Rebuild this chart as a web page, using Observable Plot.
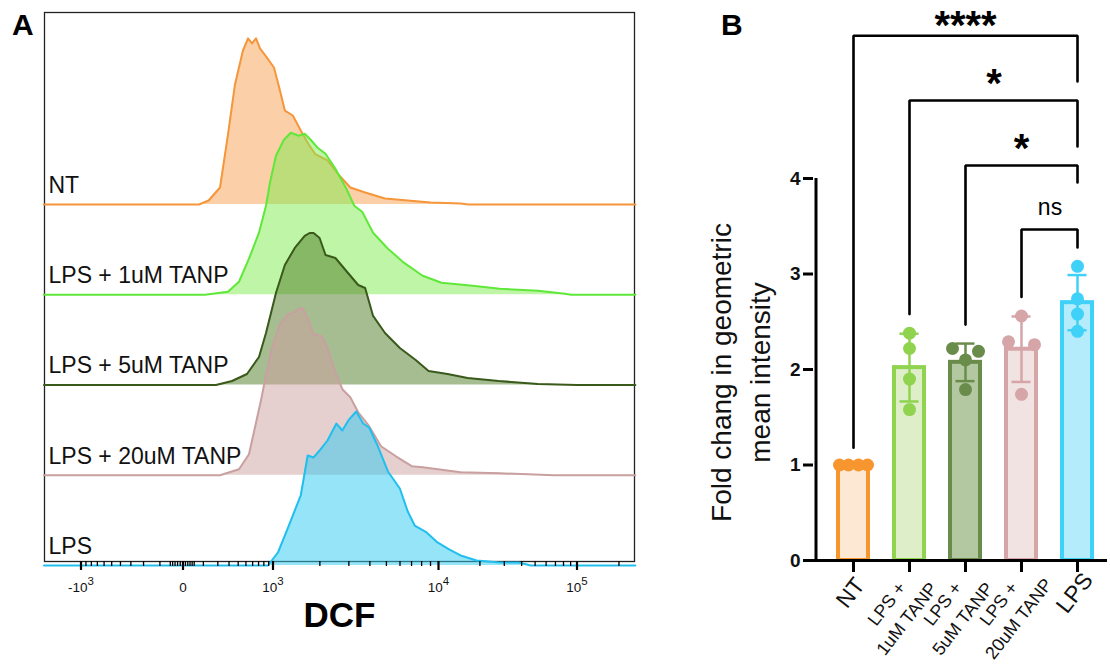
<!DOCTYPE html>
<html><head><meta charset="utf-8">
<script src="https://cdn.jsdelivr.net/npm/d3@7"></script>
<script src="https://cdn.jsdelivr.net/npm/@observablehq/plot@0.6"></script>
<style>
html,body{margin:0;padding:0;background:#fff}
body{width:1110px;height:664px;position:relative;overflow:hidden;font-family:"Liberation Sans",Arial,sans-serif}
#panelA,#panelB{position:absolute;top:0}
#panelA{left:0}
#panelB{left:650px}
.plab{position:absolute;font-weight:bold;font-size:30px;line-height:30px;color:#000}
#panelB g[aria-label="y-axis tick label"] text{font-weight:bold}
</style></head><body>
<div id="panelA"></div><div id="panelB"></div>
<div class="plab" style="left:12px;top:10px">A</div>
<div class="plab" style="left:721px;top:10px">B</div>
<script>
// ================= Panel A: DCF histograms =================
const histNames = ["NT", "LPS + 1uM TANP", "LPS + 5uM TANP", "LPS + 20uM TANP", "LPS"];

const ntDCF   = [-2100, 75, 133, 218, 290, 363, 460, 530, 590, 656, 726, 844, 1015, 1113, 1199, 1351, 1518, 1703, 1882, 2228, 2596, 3060, 3751, 4906, 6655, 9005, 14483, 16562, 262144];
const ntCount = [0, 0, 0.044, 0.188, 0.776, 1.33, 1.706, 1.84, 1.784, 1.84, 1.729, 1.64, 1.518, 1.263, 1.04, 0.986, 0.82, 0.665, 0.554, 0.488, 0.332, 0.188, 0.133, 0.066, 0.044, 0.022, 0.011, 0, 0];

const tanp1DCF   = [-2100, 110, 290, 410, 544, 708, 844, 930, 1047, 1182, 1311, 1474, 1608, 1753, 1936, 2167, 2490, 2897, 3232, 3602, 4178, 5106, 6313, 8108, 10519, 17709, 27805, 52339, 81951, 90534, 262144];
const tanp1Count = [0, 0, 0.033, 0.144, 0.399, 0.687, 0.986, 1.241, 1.54, 1.717, 1.795, 1.762, 1.784, 1.717, 1.629, 1.562, 1.396, 1.175, 0.986, 0.92, 0.687, 0.51, 0.355, 0.21, 0.133, 0.1, 0.066, 0.044, 0.011, 0, 0];

const tanp5DCF   = [-2100, 186, 331, 515, 708, 844, 976, 1047, 1199, 1391, 1608, 1728, 1829, 1992, 2167, 2490, 2897, 3412, 3751, 4178, 4906, 5988, 7395, 8772, 11639, 16286, 27344, 52339, 100000, 262144];
const tanp5Count = [0, 0, 0.044, 0.122, 0.31, 0.576, 0.842, 1.019, 1.33, 1.518, 1.651, 1.684, 1.684, 1.629, 1.44, 1.407, 1.263, 1.108, 1.075, 0.765, 0.576, 0.41, 0.277, 0.155, 0.122, 0.078, 0.044, 0.011, 0, 0];

const tanp20DCF   = [-2100, 218, 410, 544, 639, 745, 844, 976, 1113, 1254, 1351, 1453, 1563, 1703, 1829, 2048, 2228, 2490, 2743, 3060, 3412, 3959, 4651, 5679, 7016, 8108, 14483, 27805, 68281, 262144];
const tanp20Count = [0, 0, 0.066, 0.233, 0.532, 0.831, 1.108, 1.407, 1.673, 1.784, 1.795, 1.839, 1.85, 1.706, 1.562, 1.54, 1.407, 1.141, 0.953, 0.864, 0.698, 0.543, 0.321, 0.21, 0.1, 0.089, 0.033, 0.022, 0, 0];

const lpsDCF   = [-2100, 886, 1079, 1273, 1518, 1679, 1829, 1992, 2228, 2525, 2743, 2978, 3321, 3651, 3959, 4408, 5106, 5988, 6655, 7299, 8546, 9869, 12038, 14483, 18936, 27805, 38158, 46585, 262144];
const lpsCount = [0, 0, 0.144, 0.443, 0.776, 1.219, 1.197, 1.274, 1.385, 1.573, 1.496, 1.607, 1.706, 1.573, 1.529, 1.341, 1.042, 0.853, 0.598, 0.443, 0.366, 0.255, 0.177, 0.111, 0.055, 0.033, 0.033, 0, 0];

const histDCF = [ntDCF, tanp1DCF, tanp5DCF, tanp20DCF, lpsDCF];
const histCount = [ntCount, tanp1Count, tanp5Count, tanp20Count, lpsCount];
const histStroke = ["#f5963a", "#5fe83a", "#3a5a1c", "#c9a0a0", "#20bfed"];
const histFill = ["#f79f51", "#7feb4d", "#4d7b23", "#cd9f9f", "#2dc9f1"];

const axisMajor = [-1000, 0, 1000, 10000, 100000];
const axisMajorLabels = ["-10³", "0", "10³", "10⁴", "10⁵"];
const axisMinor = [-900, -800, -700, -600, -500, -400, -300, -200, -100, -50, -40, -30, -20, -10, 10, 20, 30, 40, 50,
  100, 200, 300, 400, 500, 600, 700, 800, 900, 2000, 3000, 4000, 5000, 6000, 7000, 8000, 9000,
  20000, 30000, 40000, 50000, 60000, 70000, 80000, 90000, 200000];

// ================= Panel B: fold change =================
const groups = ["NT", "LPS + 1uM TANP", "LPS + 5uM TANP", "LPS + 20uM TANP", "LPS"];
const groupLine1 = ["NT", "LPS +", "LPS +", "LPS +", "LPS"];
const groupLine2 = ["", "1uM TANP", "5uM TANP", "20uM TANP", ""];
const ntFold = [1.0, 1.0, 1.0, 1.0];
const tanp1Fold = [2.38, 2.22, 1.90, 1.58];
const tanp5Fold = [2.22, 2.19, 2.10, 1.79];
const tanp20Fold = [2.29, 2.26, 2.56, 1.74];
const lpsFold = [3.08, 2.74, 2.58, 2.40];
const foldValues = [ntFold, tanp1Fold, tanp5Fold, tanp20Fold, lpsFold];
const pointNudge = [[-14, -5, 5, 14], [0, 0, 0, 0], [-13, 13, 0, 0], [-13, 13, 0, 0], [0, 0, 0, 0]];
const barStroke = ["#f7962f", "#8fd34f", "#6a8c4b", "#d5a5a8", "#3fd1f8"];
const barFill = ["#fde8d3", "#ddeec9", "#b3c8a0", "#f2e3e3", "#b4ecfc"];
const yTicksB = [0, 1, 2, 3, 4];

// significance brackets
const compFrom = ["NT", "LPS + 1uM TANP", "LPS + 5uM TANP", "LPS + 20uM TANP"];
const compTo = ["LPS", "LPS", "LPS", "LPS"];
const compLevel = [5.495, 4.817, 4.136, 3.466];
const compFromEnd = [1.18, 2.58, 2.47, 2.76];
const compToEnd = [5.016, 4.335, 3.958, 3.277];
const compLabel = ["****", "*", "*", "ns"];

const FONT = '"Liberation Sans", Arial, sans-serif';

// ---------- build panel A ----------
const nRows = histNames.length;
const histMarks = [];
histNames.forEach((name, i) => {
  const base = nRows - 1 - i;
  const pts = histDCF[i].map((x, k) => ({x, y1: base, y2: base + histCount[i][k]}));
  histMarks.push(Plot.areaY(pts, {x: "x", y1: "y1", y2: "y2", fill: histFill[i], fillOpacity: 0.5}));
  histMarks.push(Plot.lineY(pts, {x: "x", y: "y2", stroke: histStroke[i], strokeWidth: 2}));
});

const plotA = Plot.plot({
  width: 650, height: 664,
  marginLeft: 44, marginRight: 16, marginTop: 12, marginBottom: 99,
  style: {fontFamily: FONT, background: "transparent"},
  x: {type: "symlog", constant: 200, domain: axisMajor, range: [80.5, 182.5, 272.5, 438, 576.5]},
  y: {domain: [0, 6.127], axis: null},
  marks: [
    Plot.frame({insetBottom: 4, stroke: "#222", strokeWidth: 1.3}),
    ...histMarks,
    Plot.text(histNames, {frameAnchor: "left", y: (d, i) => nRows - 1 - i, text: d => d, dx: 4, dy: -19,
      textAnchor: "start", fontSize: 23, fill: "#111"}),
    Plot.axisX({ticks: axisMinor, tickSize: 5, tickFormat: () => "", dy: -4, strokeWidth: 1.3, label: null, stroke: "#000"}),
    Plot.axisX({ticks: axisMajor, tickSize: 9, tickPadding: 12, dy: -4, strokeWidth: 2.2, label: null, stroke: "#000",
      tickFormat: d => axisMajorLabels[axisMajor.indexOf(d)], fontSize: 13.5, fill: "#111"}),
    Plot.text(["DCF"], {frameAnchor: "bottom", dy: 61, fontSize: 35, fontWeight: "bold", fill: "#000"})
  ]
});
// raise the exponents of the log-decade labels
const supMap = {"³": "3", "⁴": "4", "⁵": "5"};
plotA.querySelectorAll("text").forEach(t => {
  const m = t.textContent.match(/^(-?10)([³⁴⁵])$/);
  if (m) {
    t.textContent = m[1];
    const ts = document.createElementNS("http://www.w3.org/2000/svg", "tspan");
    ts.setAttribute("dy", "-0.6em");
    ts.setAttribute("font-size", "0.85em");
    ts.textContent = supMap[m[2]];
    t.appendChild(ts);
  }
});
document.getElementById("panelA").appendChild(plotA);

// ---------- build panel B ----------
const summary = groups.map((g, i) => ({key: g, i, mean: d3.mean(foldValues[i]), sd: d3.deviation(foldValues[i]) || 0}));
const points = groups.flatMap((g, i) => foldValues[i].map((v, k) => ({key: g, i, v, nudge: pointNudge[i][k]})));
const nudges = Array.from(new Set(points.map(p => p.nudge)));
const dotMarks = nudges.map(n => Plot.dot(points.filter(p => p.nudge === n),
  {x: "key", y: "v", r: 6.5, fill: d => barStroke[d.i], dx: n}));

const brackets = compFrom.map((f, k) => ({k, from: f, to: compTo[k], level: compLevel[k], fromEnd: compFromEnd[k], toEnd: compToEnd[k], label: compLabel[k]}));
const bracketPath = brackets.flatMap(b => [
  {k: b.k, x: b.from, y: b.fromEnd}, {k: b.k, x: b.from, y: b.level},
  {k: b.k, x: b.to, y: b.level}, {k: b.k, x: b.to, y: b.toEnd}]);
const halfStep = 28.5;
const bracketText = brackets.map((b, k) => {
  const m = (groups.indexOf(b.from) + groups.indexOf(b.to)) / 2;
  return {...b, mid: groups[Math.floor(m)], half: m % 1 !== 0, top: k === 0};
});
const textOpts = (b) => b.label === "ns"
  ? {fontSize: 23, dy: -22, fontWeight: "normal"}
  : {fontSize: 40, dy: b.top ? -10 : -16, fontWeight: "bold", letterSpacing: "1px"};
const bracketTextMarks = bracketText.map(b => Plot.text([b], {x: "mid", y: "level", text: "label",
  dx: b.half ? halfStep : 0, fill: "#000", ...textOpts(b)}));

const single = groups.filter((g, i) => !groupLine2[i]);
const double = groups.filter((g, i) => groupLine2[i]);

const plotB = Plot.plot({
  width: 460, height: 664,
  marginLeft: 163, marginRight: 3, marginTop: 0, marginBottom: 104,
  style: {fontFamily: FONT, background: "transparent"},
  color: {type: "identity"},
  x: {type: "band", domain: groups, paddingInner: 0.456, paddingOuter: 0.307, align: 0.629, axis: null},
  y: {domain: [0, 5.864], axis: null},
  marks: [
    Plot.barY(summary, {x: "key", y: "mean", fill: d => barFill[d.i], stroke: d => barStroke[d.i], strokeWidth: 4}),
    Plot.ruleX(summary, {x: "key", y1: d => d.mean - d.sd, y2: d => d.mean + d.sd, stroke: d => barStroke[d.i], strokeWidth: 2.5}),
    Plot.tickY(summary, {x: "key", y: d => d.mean + d.sd, stroke: d => barStroke[d.i], strokeWidth: 2.5, insetLeft: 5.5, insetRight: 5.5}),
    Plot.tickY(summary, {x: "key", y: d => d.mean - d.sd, stroke: d => barStroke[d.i], strokeWidth: 2.5, insetLeft: 5.5, insetRight: 5.5}),
    ...dotMarks,
    Plot.ruleY([0], {stroke: "#000", strokeWidth: 3}),
    Plot.ruleX([groups[0]], {y1: 0, y2: 4, dx: -37.5, stroke: "#000", strokeWidth: 3}),
    Plot.axisY({ticks: yTicksB, tickFormat: d => String(d), tickSize: 10, tickPadding: 3, strokeWidth: 3, stroke: "#000",
      fontSize: 19, fontWeight: "bold", fill: "#111", label: null}),
    Plot.axisX({tickSize: 12, tickFormat: () => "", strokeWidth: 3, stroke: "#000", label: null}),
    Plot.text(single, {x: d => d, text: d => groupLine1[groups.indexOf(d)], frameAnchor: "bottom", rotate: -52,
      fontSize: 23, dx: 3, dy: 37, fill: "#111"}),
    Plot.text(double, {x: d => d, text: d => groupLine1[groups.indexOf(d)], frameAnchor: "bottom", rotate: -52,
      fontSize: 18, dx: -18, dy: 47, fill: "#111"}),
    Plot.text(double, {x: d => d, text: d => groupLine2[groups.indexOf(d)], frameAnchor: "bottom", rotate: -52,
      fontSize: 18, dx: 2, dy: 62, fill: "#111"}),
    Plot.text(["Fold chang in geometric\nmean intensity"], {frameAnchor: "left", textAnchor: "middle", rotate: -90, fontSize: 28,
      lineHeight: 1.4, dx: -75.5, dy: 92, fill: "#111"}),
    Plot.line(bracketPath, {x: "x", y: "y", z: "k", stroke: "#000", strokeWidth: 2.6, strokeLinejoin: "miter", curve: "linear"}),
    ...bracketTextMarks
  ]
});
document.getElementById("panelB").appendChild(plotB);
</script>
</body></html>
